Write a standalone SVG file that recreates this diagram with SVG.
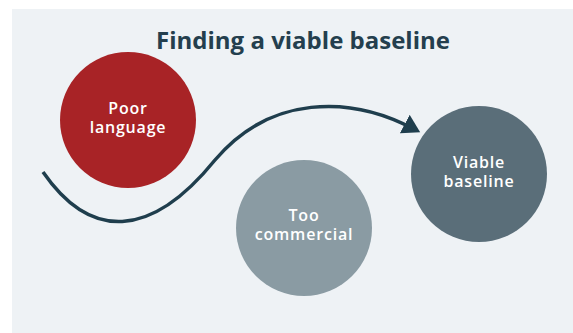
<svg xmlns="http://www.w3.org/2000/svg" width="573" height="333" viewBox="0 0 573 333">
<style>
.t{font-family:"Open Sans","Lato","Liberation Sans",sans-serif;fill:#ffffff;font-size:16px;font-weight:600;letter-spacing:0.8px;text-anchor:middle}
.title{font-family:"Open Sans","Lato","Liberation Sans",sans-serif;fill:#243f4e;font-size:24px;font-weight:700;text-anchor:middle}
</style>
<defs>
<marker id="ah" markerWidth="6" markerHeight="6" refX="3" refY="3" orient="auto" markerUnits="strokeWidth">
<path d="M0,0 L5,3 L0,6 Z" fill="#1f3e4d"/>
</marker>
</defs>
<rect x="0" y="0" width="573" height="333" fill="#ffffff"/>
<rect x="12" y="9" width="561" height="324" fill="#eef2f5"/>
<text class="title" x="303" y="49">Finding a viable baseline</text>
<g id="poor-language">
<circle cx="128" cy="120" r="68" fill="#a82326"/>
<text class="t" x="128" y="114">Poor</text>
<text class="t" x="128" y="133">language</text>
</g>
<g id="too-commercial">
<circle cx="304" cy="228" r="68" fill="#8a9ba3"/>
<text class="t" x="304" y="221">Too</text>
<text class="t" x="304" y="240">commercial</text>
</g>
<g id="viable-baseline">
<circle cx="479" cy="174" r="68" fill="#5a6e79"/>
<text class="t" x="479" y="168">Viable</text>
<text class="t" x="479" y="187">baseline</text>
</g>
<g id="connectors">
<path d="M43,172 C90,240 150,240 215,160 C270,95 350,95 414,129" fill="none" stroke="#1f3e4d" stroke-width="3.5" marker-end="url(#ah)"/>
</g>
</svg>
